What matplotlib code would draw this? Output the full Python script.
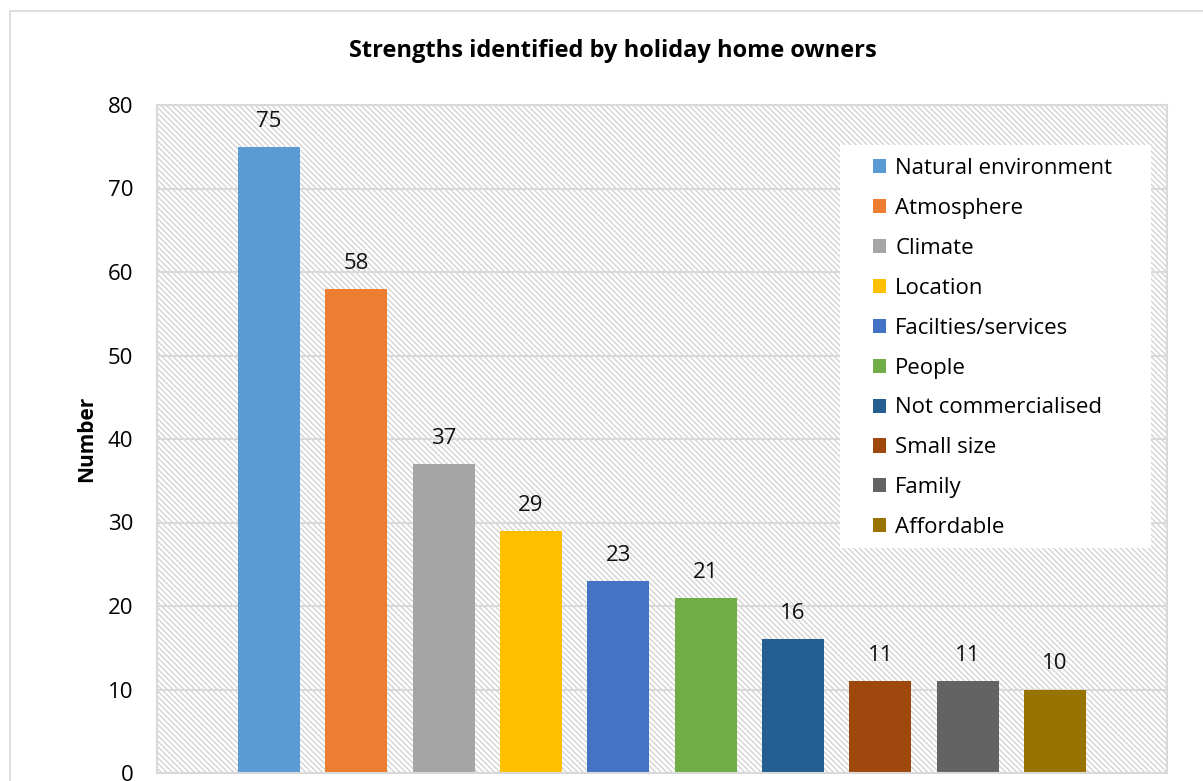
import numpy as np
import matplotlib.pyplot as plt
from matplotlib.patches import Rectangle

categories = ['Natural environment', 'Atmosphere', 'Climate', 'Location',
              'Facilties/services', 'People', 'Not commercialised',
              'Small size', 'Family', 'Affordable']
values = [75, 58, 37, 29, 23, 21, 16, 11, 11, 10]
colors = ['#5B9BD5', '#ED7D31', '#A5A5A5', '#FFC000', '#4472C4',
          '#70AD47', '#255E91', '#9E480E', '#636363', '#997300']
yticks = [0, 10, 20, 30, 40, 50, 60, 70, 80]

plt.rcParams['font.family'] = ['Open Sans', 'DejaVu Sans']
plt.rcParams['hatch.linewidth'] = 1.0
plt.rcParams['hatch.color'] = '#d4d4d4'

W, H = 1203, 781
fig = plt.figure(figsize=(W / 100, H / 100), dpi=100)
# outer chart border
fig.add_artist(Rectangle((10 / W, -0.1), 1.2, 1.1 - 11 / H,
                         transform=fig.transFigure, fill=False,
                         edgecolor='#d9d9d9', lw=1.2))

ax = fig.add_axes([157 / W, 1 - 773 / H, 1010 / W, 668 / H])
ax.set_xlim(-1.28, 10.28)
ax.set_ylim(0, 80)

# hatched plot area
ax.add_patch(Rectangle((0, 0), 1, 1, transform=ax.transAxes, facecolor='white',
                       edgecolor='#d4d4d4', hatch='\\' * 6, lw=0, zorder=0))
for y in yticks:
    ax.axhline(y, color='#d9d9d9', lw=1.5, zorder=1)

x = np.arange(len(values))
for i in range(len(values)):
    ax.bar(x[i], values[i], width=0.71, color=colors[i], label=categories[i], zorder=2)
    ax.text(x[i], values[i] + 1.8, str(values[i]), ha='center', va='bottom',
            fontsize=16, color='#111111')

for s in ['top', 'right', 'left', 'bottom']:
    ax.spines[s].set_color('#d9d9d9')
    ax.spines[s].set_linewidth(1.5)
ax.set_xticks([])
ax.set_yticks(yticks)
ax.tick_params(axis='y', length=0, labelsize=16, pad=17)
ax.set_ylabel('Number', fontsize=15, fontweight='bold')
ax.yaxis.set_label_coords(-0.059, 0.5)

fig.text(613 / W, 1 - 51 / H, 'Strengths identified by holiday home owners',
         ha='center', va='center', fontsize=17, fontweight='bold')

# white legend background box
lx0, lx1, ly0, ly1 = 840, 1151, 145, 548
ax.add_patch(Rectangle(((lx0 - 157) / 1010, (773 - ly1) / 668),
                       (lx1 - lx0) / 1010, (ly1 - ly0) / 668,
                       transform=ax.transAxes, facecolor='white', lw=0, zorder=3))
leg = ax.legend(loc='upper left', bbox_to_anchor=((862 - 157) / 1010, (773 - 147) / 668),
                frameon=False, fontsize=16, handlelength=0.6, handleheight=0.6,
                handletextpad=0.4, labelspacing=0.85, borderpad=0.0)
leg.set_zorder(4)

fig.savefig('out.png', dpi=100)
